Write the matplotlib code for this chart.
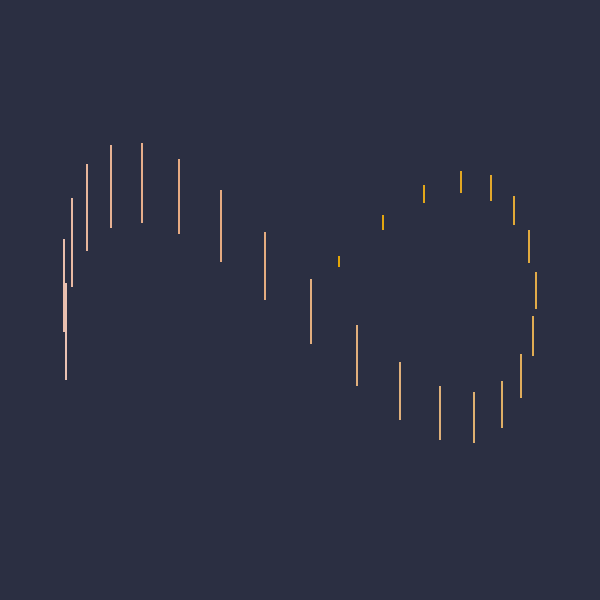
"""
Vertical range segments traced along a figure-of-eight path,
shaded from pale peach (long segments) to amber (short ones).
"""
#%% Import libraries ###########################################################
import numpy as np
import matplotlib
matplotlib.use('Agg')
import matplotlib.pyplot as plt
from matplotlib.colors import LinearSegmentedColormap

#%% Data #######################################################################
# Ordered along the path, centre position and lower / upper ends
x_pos = [-2.34, -2.357, -2.283, -2.127, -1.89, -1.577, -1.207, -0.793,
         -0.35, 0.11, 0.567, 1.0, 1.4, 1.74, 2.017, 2.213, 2.33, 2.357,
         2.29, 2.14, 1.91, 1.607, 1.24, 0.83, 0.387]
y_low = [-0.80, -0.32, 0.13, 0.49, 0.72, 0.77, 0.66, 0.38, 0.0, -0.437,
         -0.857, -1.197, -1.40, -1.427, -1.28, -0.98, -0.56, -0.09, 0.37,
         0.75, 0.99, 1.07, 0.97, 0.70, 0.333]
y_high = [0.17, 0.61, 1.02, 1.36, 1.55, 1.57, 1.413, 1.10, 0.68, 0.21,
          -0.25, -0.62, -0.86, -0.92, -0.81, -0.54, -0.16, 0.28, 0.70,
          1.04, 1.25, 1.29, 1.15, 0.85, 0.44]

#%% Main #######################################################################
def main():
    fig = plt.figure(figsize=(6, 6), dpi=100, facecolor='#2b2f42')
    ax = fig.add_axes([0, 0, 1, 1])
    ax.set_facecolor('#2b2f42')

    cmap = LinearSegmentedColormap.from_list(
        'peach_amber', ['#ffd2c0', '#fbb88a', '#f2bf80', '#f5b840', '#f7b200'])
    shade = cmap(np.linspace(0, 1, len(x_pos)))

    ax.vlines(x_pos, y_low, y_high, colors=shade, linewidth=1.3)

    ax.set_xlim(-3, 3)
    ax.set_ylim(-3, 3)
    ax.axis('off')
    fig.savefig('out.png', dpi=100, facecolor=fig.get_facecolor())

#%% Run main ###################################################################
if __name__ == '__main__':
    main()
